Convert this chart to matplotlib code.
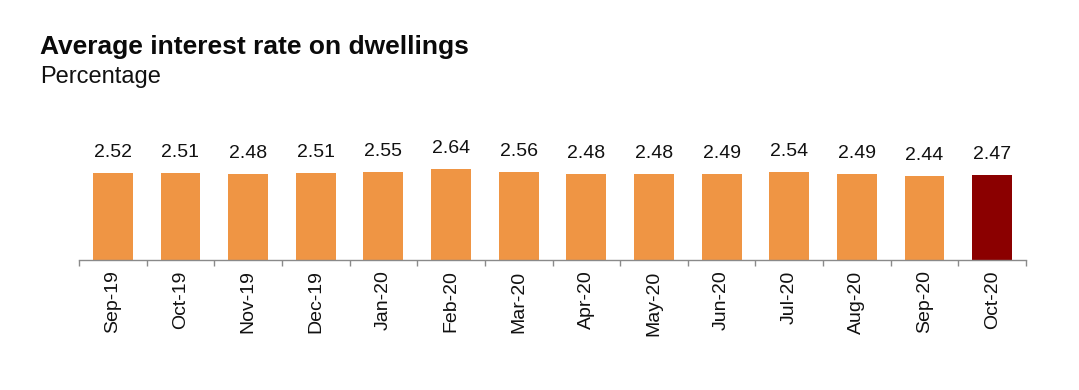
import matplotlib
matplotlib.use("Agg")
import matplotlib.pyplot as plt
import numpy as np

plt.rcParams['font.family'] = ['Liberation Sans', 'DejaVu Sans']

months = ["Sep-19", "Oct-19", "Nov-19", "Dec-19", "Jan-20", "Feb-20", "Mar-20",
          "Apr-20", "May-20", "Jun-20", "Jul-20", "Aug-20", "Sep-20", "Oct-20"]
rates = [2.52, 2.51, 2.48, 2.51, 2.55, 2.64, 2.56, 2.48, 2.48, 2.49, 2.54, 2.49, 2.44, 2.47]

orange = "#EF9544"
darkred = "#8B0000"
colors = [orange] * (len(months) - 1) + [darkred]

W, H = 1079, 390
fig = plt.figure(figsize=(W / 100, H / 100), dpi=100)
left, right, bottom = 79 / W, 1026 / W, 1 - 260 / H
ax = fig.add_axes([left, bottom, right - left, (260 - 156.5) / H])

x = np.arange(len(months))
bars = ax.bar(x, rates, width=0.59, color=colors)
ax.set_xlim(-0.5, len(months) - 0.5)
ax.set_ylim(0, 3.0)

for xi, v in zip(x, rates):
    ax.annotate(f"{v:.2f}", (xi, v), xytext=(0, 11.5), textcoords="offset points",
                ha="center", va="baseline", fontsize=14, color="#111111")

for s in ["top", "right", "left"]:
    ax.spines[s].set_visible(False)
ax.spines["bottom"].set_color("#8a8a8a")
ax.spines["bottom"].set_linewidth(1.0)
ax.set_yticks([])

ax.set_xticks(np.arange(-0.5, len(months), 1.0), minor=False)
ax.set_xticklabels([])
ax.tick_params(axis="x", which="major", length=4, color="#8a8a8a", width=1.0)
ax.set_xticks(x, minor=True)
ax.set_xticklabels(months, minor=True, rotation=90, fontsize=14, color="#111111")
ax.tick_params(axis="x", which="minor", length=0, pad=7.5)

fig.text(40 / W, 1 - 54 / H, "Average interest rate on dwellings", fontsize=19,
         fontweight="bold", va="baseline", ha="left", color="#0a0a0a")
fig.text(40 / W, 1 - 83 / H, "Percentage", fontsize=17, va="baseline", ha="left",
         color="#111111")

fig.savefig("out.png", dpi=100)
